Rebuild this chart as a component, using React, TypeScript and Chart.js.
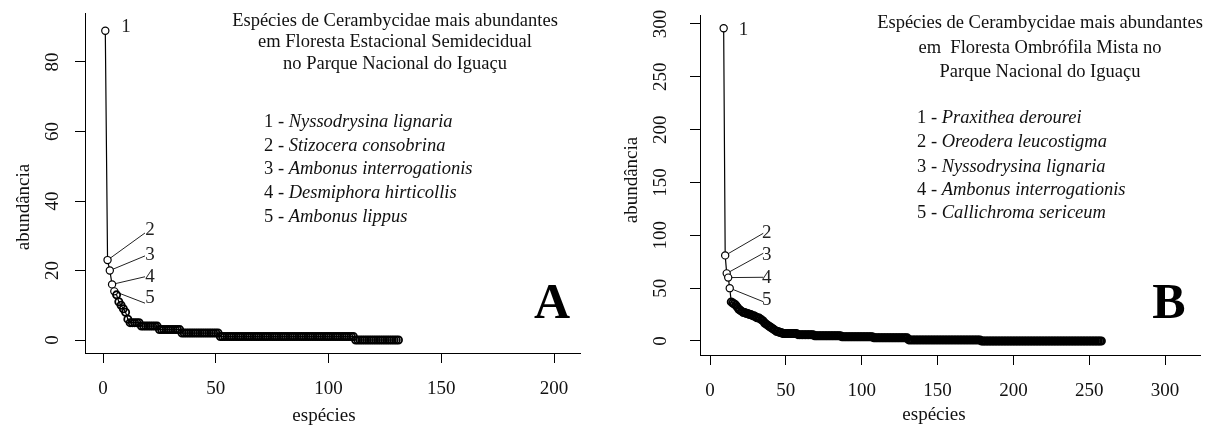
import React, { useEffect, useRef } from 'react';
import { Chart, registerables } from 'chart.js';

Chart.register(...registerables);

const SERIF = '"Liberation Serif", "Times New Roman", Times, serif';

// ---------------- Panel A: Floresta Estacional Semidecidual ----------------
const rankStartA = 1;
const abundanceA = [
  89, 23, 20, 16, 14, 13, 11, 10, 9, 8, 6,
  5, 5, 5, 5, 5,
  4, 4, 4, 4, 4, 4, 4, 4,
  3, 3, 3, 3, 3, 3, 3, 3, 3, 3,
  2, 2, 2, 2, 2, 2, 2, 2, 2, 2, 2, 2, 2, 2, 2, 2, 2,
  1, 1, 1, 1, 1, 1, 1, 1, 1, 1, 1, 1, 1, 1, 1, 1, 1, 1, 1, 1,
  1, 1, 1, 1, 1, 1, 1, 1, 1, 1, 1, 1, 1, 1, 1, 1, 1, 1, 1, 1,
  1, 1, 1, 1, 1, 1, 1, 1, 1, 1, 1, 1, 1, 1, 1, 1, 1, 1, 1, 1,
  0, 0, 0, 0, 0, 0, 0, 0, 0, 0, 0, 0, 0, 0, 0, 0, 0, 0, 0, 0,
];
const xTicksA = [0, 50, 100, 150, 200];
const yTicksA = [0, 20, 40, 60, 80];
const xRangeA = [-8, 211.5];
const yRangeA = [-3.74, 94.1];
const titleA = [
  'Espécies de Cerambycidae mais abundantes',
  'em Floresta Estacional Semidecidual',
  'no Parque Nacional do Iguaçu',
];
const speciesA = [
  'Nyssodrysina lignaria',
  'Stizocera consobrina',
  'Ambonus interrogationis',
  'Desmiphora hirticollis',
  'Ambonus lippus',
];
const pointLabels = ['1', '2', '3', '4', '5'];
const labelXA = [10.2, 20.8, 20.8, 20.8, 20.8];
const labelYA = [90.1, 31.7, 24.5, 18.1, 12.1];
const leaderEndXA = [18.6, 18.6, 18.6, 18.6];
const leaderEndYA = [30.8, 24.2, 18.2, 10.6];

// ---------------- Panel B: Floresta Ombrófila Mista ----------------
const rankStartB = 9;
const abundanceB = [
  296, 81, 64, 60, 50,
  37, 36, 35, 34, 32, 30, 29, 28, 27, 27, 26, 26, 25, 25, 24, 24, 23,
  22, 22, 21, 20, 19, 17, 16, 15, 14, 13, 12, 11, 10, 9, 9, 8, 8,
  7, 7, 7, 7, 7, 7, 7, 7, 7, 7,
  6, 6, 6, 6, 6, 6, 6, 6, 6, 6, 6,
  5, 5, 5, 5, 5, 5, 5, 5, 5, 5, 5, 5, 5, 5, 5, 5, 5, 5,
  4, 4, 4, 4, 4, 4, 4, 4, 4, 4, 4, 4, 4, 4, 4, 4, 4, 4, 4, 4, 4,
  3, 3, 3, 3, 3, 3, 3, 3, 3, 3, 3, 3, 3, 3, 3, 3, 3, 3, 3, 3, 3, 3, 3,
  1, 1, 1, 1, 1, 1, 1, 1, 1, 1, 1, 1, 1, 1, 1, 1, 1, 1, 1, 1, 1, 1, 1, 1,
  1, 1, 1, 1, 1, 1, 1, 1, 1, 1, 1, 1, 1, 1, 1, 1, 1, 1, 1, 1, 1, 1, 1, 1,
  0, 0, 0, 0, 0, 0, 0, 0, 0, 0, 0, 0, 0, 0, 0, 0, 0, 0, 0, 0,
  0, 0, 0, 0, 0, 0, 0, 0, 0, 0, 0, 0, 0, 0, 0, 0, 0, 0, 0, 0,
  0, 0, 0, 0, 0, 0, 0, 0, 0, 0, 0, 0, 0, 0, 0, 0, 0, 0, 0, 0,
  0, 0, 0, 0, 0, 0, 0, 0, 0, 0, 0, 0, 0, 0, 0, 0, 0, 0, 0, 0,
];
const xTicksB = [0, 50, 100, 150, 200, 250, 300];
const yTicksB = [0, 50, 100, 150, 200, 250, 300];
const xRangeB = [-6.6, 323];
const yRangeB = [-13.25, 308.5];
const titleB = [
  'Espécies de Cerambycidae mais abundantes',
  'em  Floresta Ombrófila Mista no',
  'Parque Nacional do Iguaçu',
];
const speciesB = [
  'Praxithea derourei',
  'Oreodera leucostigma',
  'Nyssodrysina lignaria',
  'Ambonus interrogationis',
  'Callichroma sericeum',
];
const labelXB = [22, 37.4, 37.4, 37.4, 37.4];
const labelYB = [294.3, 101.9, 81.4, 59.6, 38.8];
const leaderEndXB = [35.1, 35.1, 35.1, 35.1];
const leaderEndYB = [101.9, 83, 60.3, 37.2];

const TEXT = '#111';
const HIGHLIGHTED = 5;

const panelPlugin = {
  id: 'panelText',
  afterDraw(chart: any, _args: any, o: any) {
    const ctx = chart.ctx as CanvasRenderingContext2D;
    const xs = chart.scales.x;
    const ys = chart.scales.y;
    ctx.save();
    ctx.fillStyle = TEXT;
    ctx.textBaseline = 'middle';
    ctx.textAlign = 'center';

    // rotated y tick labels (R style)
    ctx.font = `19px ${SERIF}`;
    for (const t of ys.ticks) {
      const py = ys.getPixelForValue(t.value);
      ctx.save();
      ctx.translate(o.yTickX, py);
      ctx.rotate(-Math.PI / 2);
      ctx.fillText(String(t.value), 0, 0);
      ctx.restore();
    }
    // axis titles
    ctx.save();
    ctx.translate(o.yTitleX, o.yTitleY);
    ctx.rotate(-Math.PI / 2);
    ctx.fillText(o.yTitle, 0, 0);
    ctx.restore();
    ctx.fillText(o.xTitle, o.xTitleX, o.xTitleY);

    // title block
    ctx.font = `18.5px ${SERIF}`;
    o.titleLines.forEach((line: string, i: number) => {
      ctx.fillText(line, o.titleX, o.titleY[i]);
    });

    // species list
    ctx.textAlign = 'left';
    o.species.forEach((name: string, i: number) => {
      const prefix = `${i + 1} - `;
      ctx.font = `18.5px ${SERIF}`;
      ctx.fillText(prefix, o.legendX, o.legendY[i]);
      const w = ctx.measureText(prefix).width;
      ctx.font = `italic 18.5px ${SERIF}`;
      ctx.fillText(name, o.legendX + w, o.legendY[i]);
    });

    // point labels
    ctx.textAlign = 'center';
    ctx.font = `19px ${SERIF}`;
    ctx.fillStyle = '#222';
    o.labels.forEach((lab: string, i: number) => {
      ctx.fillText(lab, xs.getPixelForValue(o.labelX[i]), ys.getPixelForValue(o.labelY[i]));
    });

    // panel letter
    ctx.fillStyle = '#000';
    ctx.textBaseline = 'alphabetic';
    ctx.font = `bold 50px ${SERIF}`;
    ctx.fillText(o.letter, o.letterX, o.letterY);
    ctx.restore();
  },
};

function buildConfig(p: any) {
  const points = p.abundance.map((v: number, i: number) => ({ x: p.rankStart + i, y: v }));
  const leaders = p.leaderEndX.map((ex: number, k: number) => ({
    data: [points[k + 1], { x: ex, y: p.leaderEndY[k] }],
    showLine: true,
    borderColor: '#222',
    borderWidth: 1,
    pointRadius: 0,
    order: 2,
  }));
  return {
    type: 'scatter',
    data: {
      datasets: [
        {
          data: points,
          showLine: true,
          borderColor: '#000',
          borderWidth: 1.2,
          tension: 0,
          pointRadius: 3.6,
          pointBorderWidth: (c: any) => (c.dataIndex < HIGHLIGHTED ? 1.2 : 1.8),
          pointBackgroundColor: (c: any) => (c.dataIndex < HIGHLIGHTED ? '#fff' : 'rgba(255,255,255,0)'),
          pointBorderColor: '#000',
          order: 1,
        },
        ...leaders,
      ],
    },
    options: {
      responsive: false,
      animation: false,
      events: [],
      layout: { padding: p.padding },
      plugins: {
        legend: { display: false },
        tooltip: { enabled: false },
        title: { display: false },
        panelText: p.text,
      },
      scales: {
        x: {
          type: 'linear',
          min: p.xRange[0],
          max: p.xRange[1],
          afterBuildTicks: (s: any) => {
            s.ticks = p.xTicks.map((v: number) => ({ value: v }));
          },
          afterFit: (s: any) => {
            s.height = p.xAxisHeight;
          },
          grid: { display: true, drawOnChartArea: false, drawTicks: true, tickLength: 10, color: '#000', lineWidth: 1 },
          border: { display: true, color: '#000', width: 1 },
          ticks: {
            color: TEXT,
            font: { family: SERIF, size: 19 },
            padding: 15,
            maxRotation: 0,
            minRotation: 0,
            autoSkip: false,
            callback: (v: any) => String(v),
          },
        },
        y: {
          type: 'linear',
          min: p.yRange[0],
          max: p.yRange[1],
          afterBuildTicks: (s: any) => {
            s.ticks = p.yTicks.map((v: number) => ({ value: v }));
          },
          afterFit: (s: any) => {
            s.width = p.yAxisWidth;
          },
          grid: { display: true, drawOnChartArea: false, drawTicks: true, tickLength: 10, color: '#000', lineWidth: 1 },
          border: { display: true, color: '#000', width: 1 },
          ticks: { display: false },
        },
      },
    },
    plugins: [panelPlugin],
  };
}

const panelA = {
  rankStart: rankStartA,
  abundance: abundanceA,
  xTicks: xTicksA,
  yTicks: yTicksA,
  xRange: xRangeA,
  yRange: yRangeA,
  leaderEndX: leaderEndXA,
  leaderEndY: leaderEndYA,
  padding: { left: 0, right: 25, top: 13, bottom: 0 },
  xAxisHeight: 75,
  yAxisWidth: 85,
  text: {
    titleLines: titleA,
    titleX: 395,
    titleY: [21, 42.5, 64],
    species: speciesA,
    legendX: 264,
    legendY: [122, 146, 169, 193, 217],
    labels: pointLabels,
    labelX: labelXA,
    labelY: labelYA,
    letter: 'A',
    letterX: 552,
    letterY: 318,
    yTitle: 'abundância',
    yTitleX: 24,
    yTitleY: 207,
    xTitle: 'espécies',
    xTitleX: 324,
    xTitleY: 416,
    yTickX: 53.5,
  },
};

const panelB = {
  rankStart: rankStartB,
  abundance: abundanceB,
  xTicks: xTicksB,
  yTicks: yTicksB,
  xRange: xRangeB,
  yRange: yRangeB,
  leaderEndX: leaderEndXB,
  leaderEndY: leaderEndYB,
  padding: { left: 0, right: 10, top: 15, bottom: 0 },
  xAxisHeight: 73,
  yAxisWidth: 95,
  text: {
    titleLines: titleB,
    titleX: 435,
    titleY: [23, 48, 72],
    species: speciesB,
    legendX: 312,
    legendY: [118, 142, 167, 190, 213],
    labels: pointLabels,
    labelX: labelXB,
    labelY: labelYB,
    letter: 'B',
    letterX: 564,
    letterY: 318,
    yTitle: 'abundância',
    yTitleX: 27,
    yTitleY: 180,
    xTitle: 'espécies',
    xTitleX: 329,
    xTitleY: 415,
    yTickX: 56.5,
  },
};

export default function App() {
  const refA = useRef<HTMLCanvasElement | null>(null);
  const refB = useRef<HTMLCanvasElement | null>(null);

  useEffect(() => {
    const charts: Chart[] = [];
    if (refA.current) charts.push(new Chart(refA.current, buildConfig(panelA) as any));
    if (refB.current) charts.push(new Chart(refB.current, buildConfig(panelB) as any));
    return () => {
      charts.forEach((c) => c.destroy());
    };
  }, []);

  return (
    <div style={{ position: 'absolute', left: 0, top: 0, width: 1210, height: 428, background: '#fff', overflow: 'hidden' }}>
      <canvas ref={refA} width={605} height={428} style={{ position: 'absolute', left: 0, top: 0, width: 605, height: 428 }} />
      <canvas ref={refB} width={605} height={428} style={{ position: 'absolute', left: 605, top: 0, width: 605, height: 428 }} />
    </div>
  );
}
